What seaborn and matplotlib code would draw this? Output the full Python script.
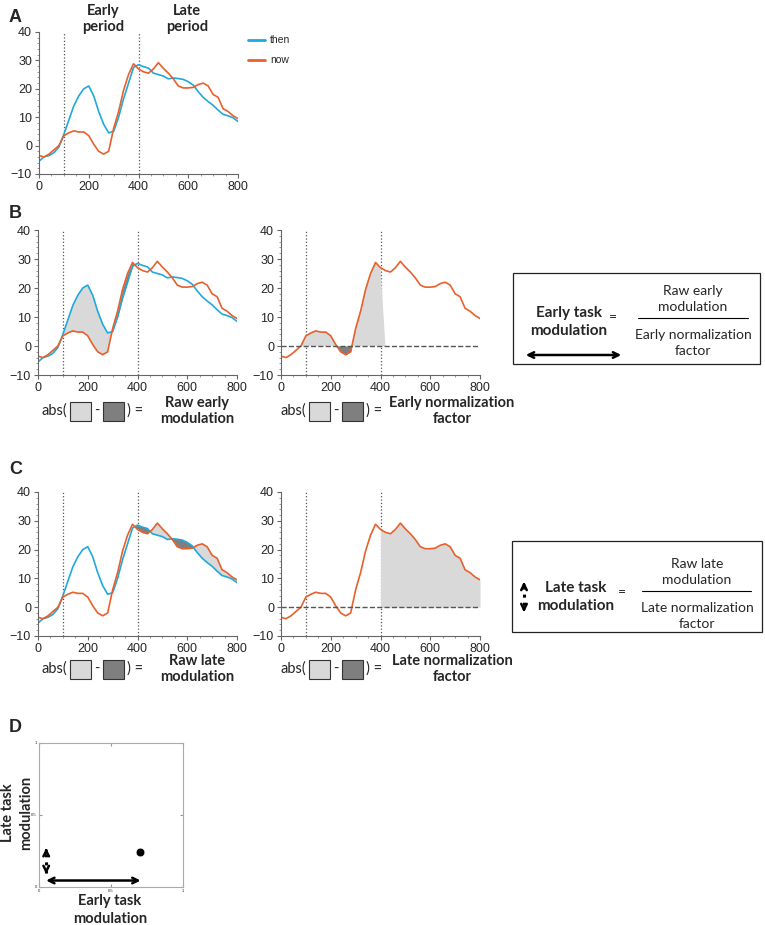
import numpy as np
import pandas as pd
import seaborn as sns
import matplotlib.pyplot as plt
from matplotlib.patches import Rectangle
from matplotlib.ticker import AutoMinorLocator

# Data (time in ms, signal values)
time = list(range(0, 801, 20))
then_vals = [-5.5, -4, -3.5, -2.5, -0.5, 4, 9, 14, 17.5, 20, 21, 17.5, 12, 7.5, 4.5, 5,
             10, 16.5, 22, 27.5, 28.5, 27.8, 27.3, 25.5, 25, 24.5, 23.5, 23.8, 23.6, 23.3,
             22.5, 21.3, 19, 17, 15.5, 14.2, 12.5, 11, 10.5, 9.8, 8.5]
now_vals = [-3.5, -4, -3, -1.5, 0, 3.5, 4.5, 5.2, 4.8, 4.8, 3.5, 0.5, -2, -3, -2, 6,
            12, 19.5, 25, 28.8, 27, 26, 25.5, 27, 29.2, 27.2, 25.5, 23.5, 21, 20.3,
            20.3, 20.5, 21.5, 22, 21, 18, 17, 13, 12, 10.5, 9.5]
periods = [100, 400]
x_ticks = [0, 200, 400, 600, 800]
y_ticks = [-10, 0, 10, 20, 30, 40]
point_early = [0.70]
point_late = [0.24]

df = pd.DataFrame({
    "time": time * 2,
    "value": then_vals + now_vals,
    "series": ["then"] * len(time) + ["now"] * len(time),
})

BLUE = "#1fa9dc"
ORANGE = "#e8602c"
LIGHT = "#d9d9d9"
DARK = "#7f7f7f"
palette = {"then": BLUE, "now": ORANGE}

W, H = 765, 925
sns.set_style("ticks")
plt.rcParams["font.family"] = ["Liberation Sans", "DejaVu Sans"]

fig = plt.figure(figsize=(W / 100, H / 100), dpi=100)


def rect(l, t, r, b):
    return [l / W, 1 - b / H, (r - l) / W, (b - t) / H]


def trace_axes(box, which):
    ax = fig.add_axes(rect(*box))
    sub = df[df["series"].isin(which)]
    sns.lineplot(data=sub, x="time", y="value", hue="series", hue_order=which,
                 palette=palette, legend=False, lw=1.2, ax=ax)
    for p in periods:
        ax.axvline(p, color="#555555", ls=":", lw=0.9, zorder=0.5)
    ax.set_xlim(0, 800)
    ax.set_ylim(-10, 40)
    ax.set_xticks(x_ticks)
    ax.set_yticks(y_ticks)
    ax.xaxis.set_minor_locator(AutoMinorLocator(4))
    ax.yaxis.set_minor_locator(AutoMinorLocator(5))
    ax.set_xlabel("")
    ax.set_ylabel("")
    sns.despine(ax=ax)
    for s in ["left", "bottom"]:
        ax.spines[s].set_color("#666666")
    ax.tick_params(labelsize=9, length=3, color="#666666", pad=2)
    ax.tick_params(which="minor", length=1.5, color="#888888")
    return ax


t = np.array(time)
a = np.array(then_vals)
b = np.array(now_vals)
early = (t >= 100) & (t <= 400)
late = (t >= 400) & (t <= 800)

# A
axA = trace_axes((39, 32, 238, 174), ["then", "now"])

# B left: raw early modulation
axB1 = trace_axes((38, 230, 237, 375), ["then", "now"])
axB1.fill_between(t, a, b, where=early & (a >= b), interpolate=True, color=LIGHT, lw=0)
axB1.fill_between(t, a, b, where=early & (b > a), interpolate=True, color=DARK, lw=0)

# B right: early normalization factor
axB2 = trace_axes((281, 230, 480, 375), ["now"])
axB2.axhline(0, color="#555555", ls="--", lw=1)
axB2.fill_between(t, 0, b, where=early & (b >= 0), interpolate=True, color=LIGHT, lw=0)
axB2.fill_between(t, 0, b, where=early & (b < 0), interpolate=True, color=DARK, lw=0)

# C left: raw late modulation
axC1 = trace_axes((38, 492, 237, 636), ["then", "now"])
axC1.fill_between(t, a, b, where=late & (b >= a), interpolate=True, color=LIGHT, lw=0)
axC1.fill_between(t, a, b, where=late & (a > b), interpolate=True, color=DARK, lw=0)

# C right: late normalization factor
axC2 = trace_axes((281, 492, 480, 636), ["now"])
axC2.axhline(0, color="#555555", ls="--", lw=1)
axC2.fill_between(t, 0, b, where=late & (b >= 0), interpolate=True, color=LIGHT, lw=0)

# D: scatter of early vs late modulation
axD = fig.add_axes(rect(39, 743, 183, 887))
sns.scatterplot(x=point_early, y=point_late, color="black", s=40, ax=axD, zorder=3)
axD.set_xlim(0, 1)
axD.set_ylim(0, 1)
axD.set_xticks([0, 0.5, 1])
axD.set_yticks([0, 0.5, 1])
axD.set_xticklabels(["0", "0.5", "1"])
axD.set_yticklabels(["0", "0.5", "1"])
axD.tick_params(labelsize=3, length=2, direction="in", top=True, right=True,
                color="#999999", pad=1.5)
for s in axD.spines.values():
    s.set_color("#aaaaaa")
    s.set_linewidth(0.8)
axD.annotate("", xy=(0.725, 0.045), xytext=(0.03, 0.045),
             arrowprops=dict(arrowstyle="<->", lw=1.8, color="black"))
axD.plot([0.05, 0.05], [0.10, 0.26], color="black", ls=":", lw=2.2)
axD.annotate("", xy=(0.05, 0.29), xytext=(0.05, 0.23),
             arrowprops=dict(arrowstyle="->", lw=1.8, color="black"))
axD.annotate("", xy=(0.05, 0.07), xytext=(0.05, 0.13),
             arrowprops=dict(arrowstyle="->", lw=1.8, color="black"))

# overlay in pixel coordinates for annotations
ov = fig.add_axes([0, 0, 1, 1])
ov.set_xlim(0, W)
ov.set_ylim(H, 0)
ov.axis("off")

for letter, y in [("A", 18), ("B", 213), ("C", 470), ("D", 728)]:
    ov.text(9, y, letter, fontsize=13, weight="bold", ha="left", va="center")

hdr = dict(ha="center", va="center", fontsize=10.5, weight="bold", family="Lato",
           linespacing=1.15)
ov.text(103, 19, "Early\nperiod", **hdr)
ov.text(187, 19, "Late\nperiod", **hdr)

ov.plot([248, 265], [40, 40], color=BLUE, lw=2)
ov.plot([248, 265], [60, 60], color=ORANGE, lw=2)
ov.text(270, 40, "then", fontsize=7.5, va="center")
ov.text(270, 60, "now", fontsize=7.5, va="center")


def abs_row(x0, y, label, label_x):
    ov.text(x0, y, "abs(", ha="left", va="center", fontsize=10.5, family="Lato")
    ov.add_patch(Rectangle((x0 + 28, y - 9), 21, 19, fc=LIGHT, ec="#333333", lw=0.8))
    ov.text(x0 + 55, y, "-", ha="center", va="center", fontsize=10.5, family="Lato")
    ov.add_patch(Rectangle((x0 + 61, y - 9), 21, 19, fc=DARK, ec="#333333", lw=0.8))
    ov.text(x0 + 85, y, ") =", ha="left", va="center", fontsize=10.5, family="Lato")
    ov.text(label_x, y, label, ha="center", va="center", fontsize=10.5, weight="bold",
            family="Lato", linespacing=1.1)


abs_row(42, 411, "Raw early\nmodulation", 197)
abs_row(281, 411, "Early normalization\nfactor", 452)
abs_row(42, 669, "Raw late\nmodulation", 197)
abs_row(281, 669, "Late normalization\nfactor", 452)

box_txt = dict(ha="center", va="center", fontsize=10, family="Lato", linespacing=1.35)
bold_txt = dict(ha="center", va="center", fontsize=11, family="Lato", linespacing=1.3,
                weight="bold")

# box B
ov.add_patch(Rectangle((513, 273), 247, 91, fill=False, ec="#222222", lw=0.9))
ov.text(569, 322, "Early task\nmodulation", **bold_txt)
ov.text(613, 317, "=", **box_txt)
ov.plot([638, 748], [318, 318], color="black", lw=0.8)
ov.text(693, 299, "Raw early\nmodulation", **box_txt)
ov.text(693, 343, "Early normalization\nfactor", **box_txt)
ov.annotate("", xy=(624, 355), xytext=(523, 355),
            arrowprops=dict(arrowstyle="<->", lw=1.8, color="black"))

# box C
ov.add_patch(Rectangle((512, 541), 250, 91, fill=False, ec="#222222", lw=0.9))
ov.text(576, 597, "Late task\nmodulation", **bold_txt)
ov.text(622, 592, "=", **box_txt)
ov.plot([642, 751], [591, 591], color="black", lw=0.8)
ov.text(697, 572, "Raw late\nmodulation", **box_txt)
ov.text(697, 616, "Late normalization\nfactor", **box_txt)
ov.plot([524, 524], [586, 609], color="black", ls=":", lw=2.2)
ov.annotate("", xy=(524, 579), xytext=(524, 589),
            arrowprops=dict(arrowstyle="->", lw=1.8, color="black"))
ov.annotate("", xy=(524, 615), xytext=(524, 605),
            arrowprops=dict(arrowstyle="->", lw=1.8, color="black"))

# D axis labels
ov.text(110, 910, "Early task\nmodulation", ha="center", va="center", fontsize=10.5,
        weight="bold", family="Lato", linespacing=1.3)
ov.text(17, 813, "Late task\nmodulation", ha="center", va="center", fontsize=10.5,
        weight="bold", family="Lato", linespacing=1.3, rotation=90)

fig.savefig("out.png", dpi=100)
